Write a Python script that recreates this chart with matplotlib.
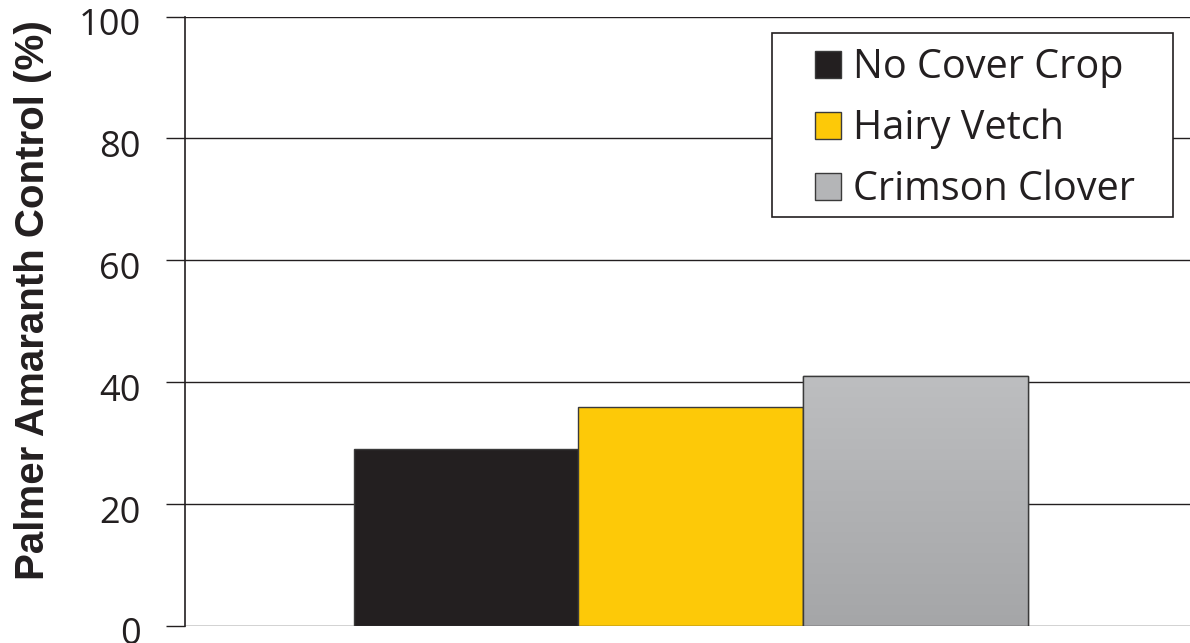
import matplotlib
matplotlib.use("Agg")
import matplotlib.pyplot as plt
import matplotlib.transforms as mtransforms
import numpy as np
from matplotlib.patches import Patch, Rectangle

# data
treatments = ['No Cover Crop', 'Hairy Vetch', 'Crimson Clover']
control = [29, 36, 41]
bar_colors = ['#231f20', '#fdc908', '#b4b5b7']
yticks = [0, 20, 40, 60, 80, 100]

plt.rcParams['font.family'] = ['Open Sans', 'DejaVu Sans']

W, H = 1190, 643
fig = plt.figure(figsize=(11.9, 6.43), dpi=100)
ax = fig.add_axes([185 / W, 17 / H, 1005 / W, 609.5 / H])

x = np.arange(len(treatments))
bars = ax.bar(x, control, width=1.0, color=bar_colors, edgecolor='#3a3a3a',
              linewidth=1.0, zorder=3)

# gray bar gets a vertical gradient (light top, darker bottom)
gb = bars[2]
grad = np.linspace(0, 1, 256).reshape(-1, 1)
cmap = matplotlib.colors.LinearSegmentedColormap.from_list('g', ['#a5a6a8', '#bdbec0'])
im = ax.imshow(grad, cmap=cmap, aspect='auto', origin='lower',
               extent=[gb.get_x(), gb.get_x() + gb.get_width(), 0, gb.get_height()],
               zorder=3.5)
im.set_clip_path(gb)
ax.bar(x[2], control[2], width=1.0, color='none', edgecolor='#3a3a3a',
       linewidth=1.0, zorder=4)

ax.set_xlim(-1.25, 3.22)
ax.set_ylim(0, 100)
ax.set_yticks(yticks)
ax.set_xticks([])
ax.yaxis.grid(True, color='#231f20', linewidth=1.0, zorder=0)
ax.set_axisbelow(True)
for s in ['top', 'right', 'bottom']:
    ax.spines[s].set_visible(False)
ax.spines['left'].set_color('#231f20')
ax.spines['left'].set_linewidth(1.2)
ax.tick_params(axis='y', length=14, width=1.0, color='#231f20', pad=18,
               labelsize=26, labelcolor='#231f20')
offset = mtransforms.ScaledTranslation(0, -0.05, fig.dpi_scale_trans)
for lab in ax.get_yticklabels():
    lab.set_transform(lab.get_transform() + offset)
    lab.set_clip_on(False)

fig.text(33 / W, 1 - 300 / H, 'Palmer Amaranth Control (%)', rotation=90,
         ha='center', va='center', fontsize=29, fontweight='bold',
         family=['Liberation Sans'], color='#231f20')

# legend: frame drawn separately so the side padding can be wider than top/bottom
fs = 28.5
frame = Rectangle((772 / W, 1 - 217 / H), 401 / W, 184 / H,
                  transform=fig.transFigure, facecolor='white',
                  edgecolor='#231f20', linewidth=1.2, zorder=6, clip_on=False)
ax.add_patch(frame)
handles = [Patch(facecolor=c, edgecolor='#3a3a3a', linewidth=1.0) for c in bar_colors]
leg = ax.legend(handles, treatments, loc='center left',
                bbox_to_anchor=(815 / W, 1 - 129 / H),
                bbox_transform=fig.transFigure, borderaxespad=0, borderpad=0,
                fontsize=fs, handlelength=0.66, handleheight=0.66,
                handletextpad=0.3, labelspacing=0.52, frameon=False)
for t in leg.get_texts():
    t.set_color('#231f20')
leg.set_zorder(7)

fig.savefig('out.png', dpi=100)
